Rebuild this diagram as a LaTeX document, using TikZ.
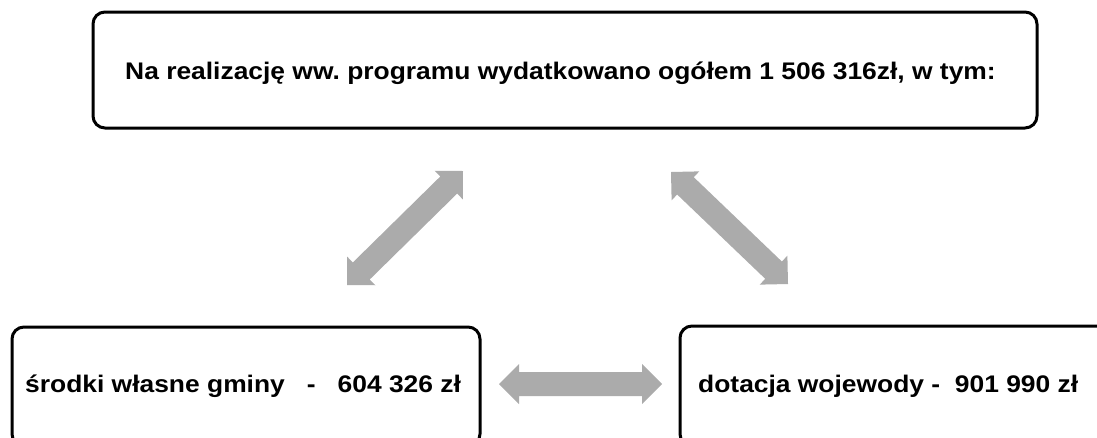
\documentclass[tikz,border=0pt]{standalone}
\usepackage{fontspec}
\setmainfont{Liberation Sans}[FakeStretch=1.1]
\usetikzlibrary{calc}
\definecolor{arrowgray}{HTML}{ABABAB}
\tikzset{
  box/.style={draw=black, line width=3pt, rounded corners=12pt, fill=white, inner sep=0pt},
  lbl/.style={anchor=base west, inner sep=0pt, font=\fontsize{24pt}{28pt}\selectfont\bfseries},
  blockarrow/.style={fill=arrowgray}
}
\newcommand\blockarr[2]{%
  \fill[blockarrow] let \p1=(#1), \p2=(#2), \n1={atan2(\y2-\y1,\x2-\x1)}, \n2={veclen(\x2-\x1,\y2-\y1)} in
   {[shift={(\p1)}, rotate=\n1] (0pt,0pt) -- (20pt,20pt) -- (20pt,12pt) -- ({\n2-20pt},12pt) -- ({\n2-20pt},20pt) -- (\n2,0pt) -- ({\n2-20pt},-20pt) -- ({\n2-20pt},-12pt) -- (20pt,-12pt) -- (20pt,-20pt) -- cycle};}
\frenchspacing
\begin{document}
\begin{tikzpicture}[x=1pt,y=-1pt]
\useasboundingbox (0,0) rectangle (1097,437);
\clip (0,0) rectangle (1097,437);
% boxes
\node[box, minimum width=944pt, minimum height=116pt] (top) at (565,70) {};
\node[box, minimum width=468pt, minimum height=119pt] (left) at (246,386.5) {};
\node[box, minimum width=430pt, minimum height=120pt] (right) at (895,386) {};
% texts
\node[lbl] (toptxt) at (125,79) {Na realizację ww. programu wydatkowano ogółem 1 506 316zł, w tym:};
\node[lbl] (lefttxt) at (25,392) {środki własne gminy\ \ \ -\ \ \ 604 326 zł};
\node[lbl] (righttxt) at (698,392) {dotacja wojewody -\ \ 901 990 zł};
% arrows
\coordinate (la1) at (347,285);
\coordinate (la2) at (463,171);
\coordinate (ra1) at (671,172);
\coordinate (ra2) at (788,284);
\coordinate (ha1) at (499,384);
\coordinate (ha2) at (662,384);
\blockarr{la1}{la2}
\blockarr{ra1}{ra2}
\blockarr{ha1}{ha2}
\end{tikzpicture}
\end{document}
